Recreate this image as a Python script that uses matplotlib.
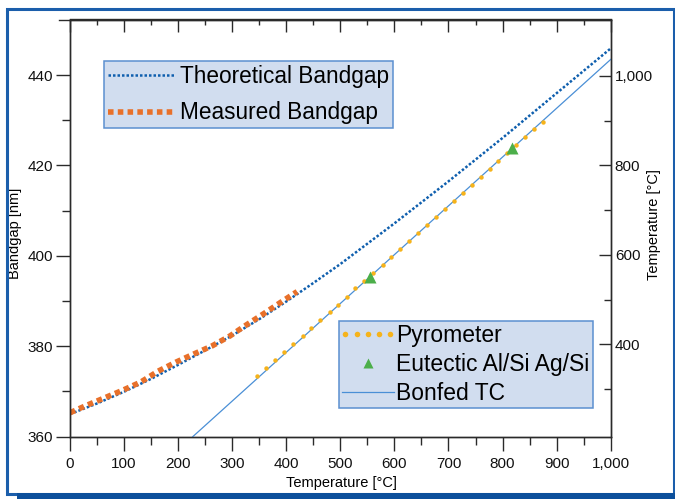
import matplotlib
matplotlib.use("Agg")
import matplotlib.pyplot as plt
from matplotlib.patches import Rectangle
from matplotlib.ticker import MultipleLocator, FixedLocator, StrMethodFormatter
from matplotlib.legend_handler import HandlerLine2D

plt.rcParams['font.family'] = ['Liberation Sans', 'DejaVu Sans']

# theoretical bandgap curve (nm) vs temperature (C)
theory_temp = [0, 50, 100, 150, 200, 250, 300, 350, 400, 450, 500, 600, 700, 800, 900, 1000]
theory_gap = [365.0, 367.35, 369.95, 372.8, 375.9, 379.1, 382.4, 386.0, 389.9, 394.0, 398.2,
              407.2, 416.5, 426.1, 436.0, 445.9]

# measured bandgap
meas_temp = [0, 30, 64, 98, 131, 163, 196, 229, 263, 296, 327, 358, 388, 420]
meas_gap = [365.3, 366.9, 368.6, 370.3, 372.1, 374.5, 376.5, 378.3, 380.1, 382.3,
            384.8, 387.2, 389.6, 392.1]

# pyrometer reading (right axis) vs TC temperature
pyro_x = [346, 363, 380, 396, 413, 430, 446, 463, 480, 496, 512, 527, 544, 561, 578, 594, 610,
          627, 644, 660, 677, 694, 711, 727, 744, 760, 776, 792, 809, 825, 842, 858, 874]
pyro_t = [329, 347, 365, 383, 400, 418, 436, 454, 472, 489, 506, 525, 542, 559, 577, 595, 613,
          630, 648, 666, 684, 702, 720, 738, 756, 773, 791, 809, 827, 845, 863, 881, 898]

# eutectic points
eut_x = [554, 817]
eut_t = [551, 838]

# bonded thermocouple line
tc_x = [227, 1000]
tc_t = [193.4, 1037]

blue_dot = '#0f5fae'
orange = '#e8702a'
yellow = '#f6b31b'
green = '#4caf4a'
tc_blue = '#4a8fd6'
frame_blue = '#1b5eab'
axis_col = '#2a2a2a'

fig = plt.figure(figsize=(6.75, 4.99), dpi=100)
ax = fig.add_axes([70 / 675, 1 - 436.7 / 499, 540.7 / 675, 417.2 / 499])
ax2 = ax.twinx()

theo_line, = ax.plot(theory_temp, theory_gap, color=blue_dot, lw=1.8,
                     linestyle=(0, (1, 0.8)), label='Theoretical Bandgap')
meas_line, = ax.plot(meas_temp, meas_gap, color=orange, lw=4.0,
                     linestyle=(0, (1, 0.76)), label='Measured Bandgap')

tc_line, = ax2.plot(tc_x, tc_t, color=tc_blue, lw=0.9, label='Bonfed TC')
pyro_line, = ax2.plot(pyro_x, pyro_t, 'o', color=yellow, ms=3.2, mec='none', label='Pyrometer')
eut_line, = ax2.plot(eut_x, eut_t, '^', color=green, ms=9, mec='none', label='Eutectic Al/Si Ag/Si')

ax.set_xlim(0, 1000)
ax.set_ylim(360, 452.3)
ax2.set_ylim(193.4, 1126.3)

ax.xaxis.set_major_locator(MultipleLocator(100))
ax.xaxis.set_minor_locator(MultipleLocator(50))
ax.yaxis.set_major_locator(FixedLocator([360, 380, 400, 420, 440]))
ax.yaxis.set_minor_locator(FixedLocator([370, 390, 410, 430]))
ax2.yaxis.set_major_locator(FixedLocator([400, 600, 800, 1000]))
ax2.yaxis.set_minor_locator(FixedLocator([300, 500, 700, 900]))
ax.xaxis.set_major_formatter(StrMethodFormatter('{x:,.0f}'))
ax2.yaxis.set_major_formatter(StrMethodFormatter('{x:,.0f}'))

for a in (ax, ax2):
    for s in a.spines.values():
        s.set_color(axis_col)
        s.set_linewidth(1.0)

ax.tick_params(which='both', direction='out', top=False, right=False,
               color=axis_col, width=1.0, labelsize=11, labelcolor='#111111')
ax.tick_params(axis='y', which='major', length=10, pad=2)
ax.tick_params(axis='x', which='major', length=10, pad=4.5)
ax.tick_params(which='minor', length=5.5)
ax2.tick_params(which='both', direction='in', color=axis_col, width=1.0,
                labelsize=11, labelcolor='#111111', pad=3)
ax2.tick_params(which='major', length=9)
ax2.tick_params(which='minor', length=5.3)

top = ax.secondary_xaxis('top')
top.xaxis.set_major_locator(MultipleLocator(100))
top.xaxis.set_minor_locator(MultipleLocator(50))
top.tick_params(which='both', direction='in', labeltop=False, color=axis_col, width=1.0)
top.tick_params(which='major', length=9)
top.tick_params(which='minor', length=4.2)
top.spines['top'].set_color(axis_col)
top.spines['top'].set_linewidth(1.0)
ax.plot([-0.02, 0], [1, 1], transform=ax.transAxes, clip_on=False, color=axis_col, lw=1.0)

ax.set_xlabel('Temperature [°C]', fontsize=10.5)
ax.xaxis.set_label_coords(0.502, -0.111)
ax.xaxis.label.set_va('center')
ax.set_ylabel('Bandgap [nm]', fontsize=10.5)
ax.yaxis.set_label_coords(-0.101, 0.487)
ax.yaxis.label.set_va('center')
ax2.set_ylabel('Temperature [°C]', fontsize=10.5)
ax2.yaxis.set_label_coords(1.081, 0.508)
ax2.yaxis.label.set_va('center')

leg1 = ax.legend(handles=[theo_line, meas_line], loc='upper left',
                 bbox_to_anchor=(0.0629, 0.9005), borderaxespad=0, fontsize=16.3,
                 handlelength=2.9, handletextpad=0.27, borderpad=0.17,
                 labelspacing=0.6, fancybox=False, framealpha=1)
leg1.get_frame().set_facecolor('#d1ddef')
leg1.get_frame().set_edgecolor('#5b8fd0')
leg1.get_frame().set_linewidth(1.1)

leg2 = ax2.legend(handles=[pyro_line, eut_line, tc_line], loc='upper left',
                  bbox_to_anchor=(0.4975, 0.2773), borderaxespad=0, fontsize=16.5,
                  handlelength=2.25, handletextpad=0.12, borderpad=0.13,
                  labelspacing=0.26, fancybox=False, framealpha=1, markerscale=0.8,
                  handler_map={pyro_line: HandlerLine2D(numpoints=5, marker_pad=0.15)})
leg2.get_frame().set_facecolor('#d1ddef')
leg2.get_frame().set_edgecolor('#5b8fd0')
leg2.get_frame().set_linewidth(1.1)
for h in leg2.legend_handles:
    if h.get_label() == 'Pyrometer':
        h.set_markersize(4)

# frame around the figure
W, H = 675, 499
fig.add_artist(Rectangle((6.5 / W, 1 - 494 / H), 667 / W, 485.5 / H, transform=fig.transFigure,
                         fill=False, edgecolor=frame_blue, lw=2.2))
fig.add_artist(Rectangle((17 / W, 0), 658 / W, 6 / H, transform=fig.transFigure,
                         facecolor='#0c4f9b', edgecolor='none'))

fig.savefig('out.png', dpi=100)
